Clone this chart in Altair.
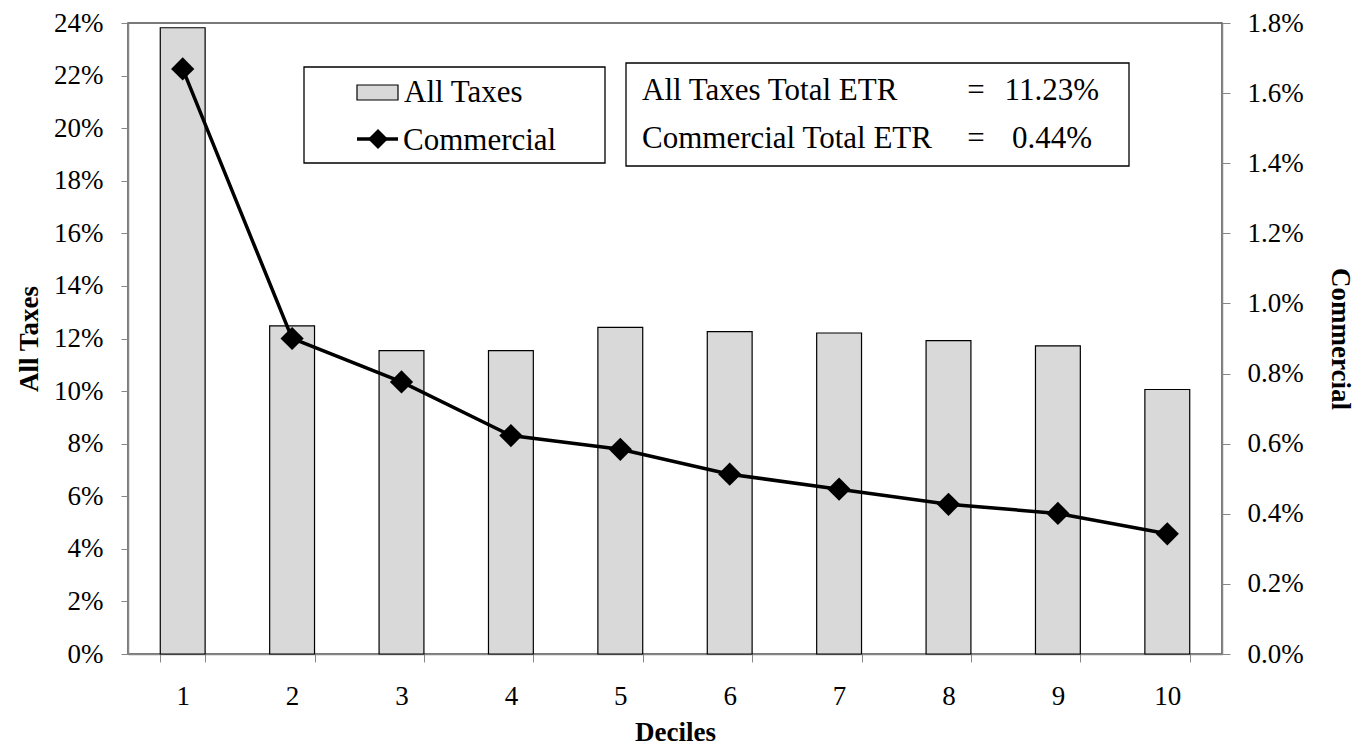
import altair as alt
import pandas as pd

deciles = [1, 2, 3, 4, 5, 6, 7, 8, 9, 10]
all_taxes = [23.82, 12.48, 11.54, 11.54, 12.42, 12.26, 12.21, 11.92, 11.72, 10.06]
commercial = [1.669, 0.900, 0.776, 0.623, 0.584, 0.513, 0.470, 0.427, 0.401, 0.343]
legend_labels = ["All Taxes", "Commercial"]
etr_labels = ["All Taxes Total ETR", "Commercial  Total ETR"]
etr_values = ["11.23%", "0.44%"]
left_ticks = [i / 100 for i in range(0, 25, 2)]
right_ticks = [i / 1000 for i in range(0, 19, 2)]

df = pd.DataFrame({
    "Decile": deciles,
    "AllTaxes": [v / 100 for v in all_taxes],
    "Commercial": [v / 100 for v in commercial],
})

FONT = "Liberation Serif"
AXIS_GRAY = "#868686"
TXT = 31

x_enc = alt.X(
    "Decile:O",
    scale=alt.Scale(paddingInner=0.59, paddingOuter=0.295),
    axis=alt.Axis(
        title="Deciles", labelAngle=0, tickBand="extent", tickSize=8,
        labelPadding=21, titlePadding=10, domainColor=AXIS_GRAY, tickColor=AXIS_GRAY,
    ),
)

bars = alt.Chart(df).mark_bar(fill="#D9D9D9", stroke="black", strokeWidth=1.2).encode(
    x=x_enc,
    y=alt.Y(
        "AllTaxes:Q",
        scale=alt.Scale(domain=[0, 0.24], nice=False),
        axis=alt.Axis(
            title="All Taxes", format=".0%", values=left_ticks, grid=False,
            tickSize=7, labelPadding=18, titlePadding=10,
            domainColor=AXIS_GRAY, tickColor=AXIS_GRAY,
        ),
    ),
)

line = alt.Chart(df).mark_line(
    color="black", strokeWidth=3.5,
    point=alt.OverlayMarkDef(shape="diamond", size=540, filled=True, color="black", opacity=1),
).encode(
    x=x_enc,
    y=alt.Y(
        "Commercial:Q",
        scale=alt.Scale(domain=[0, 0.018], nice=False),
        axis=alt.Axis(
            title="Commercial", orient="right", format=".1%", values=right_ticks, grid=False,
            tickSize=8, labelPadding=17, titlePadding=22,
            domainColor=AXIS_GRAY, tickColor=AXIS_GRAY,
        ),
    ),
)

one = pd.DataFrame({"k": [0]})

def box(x1, x2, y1, y2):
    return alt.Chart(one).mark_rect(fill="white", stroke="black", strokeWidth=1.3).encode(
        x=alt.value(x1), x2=alt.value(x2), y=alt.value(y1), y2=alt.value(y2)
    )

def label(txt, xp, yp, align="left"):
    return alt.Chart(pd.DataFrame({"t": [txt]})).mark_text(
        font=FONT, fontSize=TXT, align=align, baseline="middle", color="black"
    ).encode(text="t:N", x=alt.value(xp), y=alt.value(yp))

# annotation positions are relative to the plot origin
legend_box = box(176, 477, 44, 140)
etr_box = box(498, 1001, 40, 143)

sym_rect = alt.Chart(one).mark_rect(fill="#D9D9D9", stroke="black", strokeWidth=1.2).encode(
    x=alt.value(229), x2=alt.value(270), y=alt.value(62), y2=alt.value(77)
)
sym_line = alt.Chart(one).mark_rule(color="black", strokeWidth=3.5).encode(
    x=alt.value(229), x2=alt.value(270), y=alt.value(116)
)
sym_pt = alt.Chart(one).mark_point(shape="diamond", size=400, filled=True, color="black", opacity=1).encode(
    x=alt.value(250), y=alt.value(116)
)

texts = [
    label(legend_labels[0], 276, 70),
    label(legend_labels[1], 275, 118),
    label(etr_labels[0], 514, 68),
    label(etr_labels[1], 514, 116),
    label("=", 848, 68, "center"),
    label("=", 848, 116, "center"),
    label(etr_values[0], 971, 68, "right"),
    label(etr_values[1], 964, 116, "right"),
]

chart = alt.layer(
    bars, line, legend_box, etr_box, sym_rect, sym_line, sym_pt, *texts
).resolve_scale(y="independent").properties(
    width=1094, height=631,
    padding={"left": 120, "top": 15, "right": 137, "bottom": 93},
    autosize=alt.AutoSizeParams(type="none"),
).configure_view(
    stroke="#4d4d4d", strokeWidth=1.5
).configure_axis(
    labelFont=FONT, titleFont=FONT, labelFontSize=27, titleFontSize=27,
    labelColor="black", titleColor="black", titleFontWeight="bold",
    domainWidth=1.5,
)

chart.save("out.html", embed_options={"renderer": "svg", "actions": False})
